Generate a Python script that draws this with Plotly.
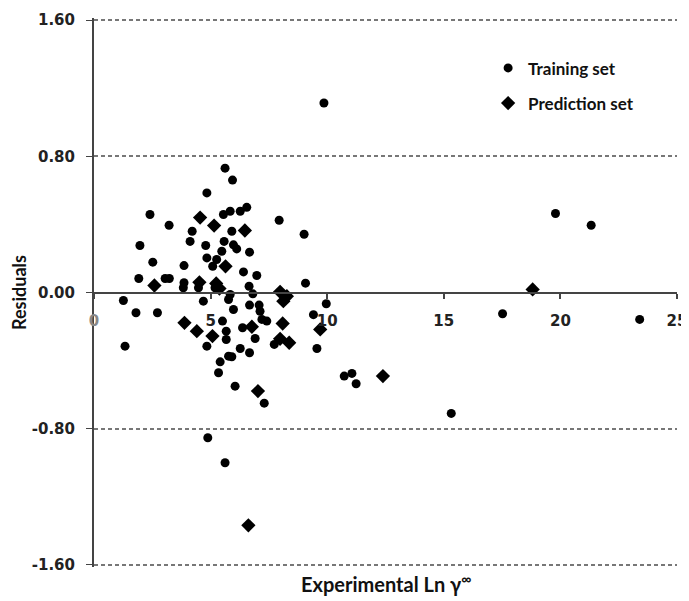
import plotly.graph_objects as go

train_x = [5.62, 5.94, 4.84, 2.40, 3.22, 5.55, 5.84, 6.27, 6.55, 7.94, 9.01, 4.21, 5.91, 4.12,
           1.97, 4.79, 5.58, 5.98, 6.12, 6.67, 5.48, 4.84, 5.26, 2.52, 3.86, 5.09, 1.92, 3.05,
           3.23, 6.41, 6.98, 9.07, 3.86, 3.83, 4.48, 5.19, 6.65, 1.26, 1.80, 2.72, 4.69, 5.84,
           5.77, 5.98, 6.81, 6.67, 7.08, 7.12, 7.20, 7.41, 8.23, 9.96, 9.41, 5.51, 6.37, 1.33,
           5.67, 5.67, 6.91, 4.84, 5.41, 5.34, 5.77, 5.91, 6.27, 6.67, 7.73, 9.56, 6.05, 7.30,
           4.88, 5.62, 10.73, 11.06, 11.24, 15.32, 17.52, 23.40, 9.86, 19.79, 21.32]
train_y = [0.73, 0.66, 0.585, 0.458, 0.395, 0.458, 0.477, 0.477, 0.50, 0.424, 0.342, 0.36, 0.36, 0.30,
           0.276, 0.276, 0.30, 0.28, 0.256, 0.237, 0.242, 0.203, 0.194, 0.178, 0.158, 0.154, 0.082, 0.082,
           0.082, 0.121, 0.10, 0.055, 0.057, 0.028, 0.028, 0.028, 0.037, -0.047, -0.119, -0.119, -0.051, -0.012,
           -0.041, -0.10, -0.008, -0.074, -0.074, -0.11, -0.158, -0.168, -0.02, -0.066, -0.13, -0.168, -0.207, -0.315,
           -0.227, -0.276, -0.27, -0.315, -0.407, -0.471, -0.374, -0.377, -0.329, -0.354, -0.305, -0.329, -0.55, -0.65,
           -0.853, -1.0, -0.491, -0.475, -0.536, -0.71, -0.125, -0.158, 1.113, 0.464, 0.395]

pred_x = [4.55, 5.15, 6.47, 2.59, 4.52, 5.24, 5.38, 5.64, 7.98, 8.12, 8.27, 3.88, 4.41, 5.08,
          6.77, 8.09, 9.70, 7.98, 8.37, 7.03, 6.62, 12.39, 18.81]
pred_y = [0.44, 0.393, 0.364, 0.041, 0.06, 0.053, 0.023, 0.154, 0.004, -0.051, -0.022, -0.178, -0.227, -0.256,
          -0.201, -0.182, -0.217, -0.272, -0.295, -0.579, -1.367, -0.491, 0.018]

x_ticks = [0, 5, 10, 15, 20, 25]
x_ticktext = ["<span style='color:#888'>0</span>", "5", "10", "15", "20", "25"]
y_ticks = [-1.6, -0.8, 0.0, 0.8, 1.6]
y_ticktext = ["-1.60", "-0.80", "0.00", "0.80", "1.60"]

tick_font = dict(family="DejaVu Sans", size=15, color="#222", weight="bold")
title_font = dict(family="Lato", size=18, color="#111", weight="bold")

fig = go.Figure()
fig.add_trace(go.Scatter(x=train_x, y=train_y, mode="markers", name="Training set",
                         legendgroup="a",
                         marker=dict(symbol="circle", size=9, color="black")))
fig.add_trace(go.Scatter(x=pred_x, y=pred_y, mode="markers", name="Prediction set",
                         legendgroup="b",
                         marker=dict(symbol="diamond", size=11, color="black")))

fig.update_layout(
    width=681, height=593,
    margin=dict(l=86, r=12, t=10, b=34, autoexpand=False),
    plot_bgcolor="white", paper_bgcolor="white",
    showlegend=True,
    legend=dict(x=0.676, y=0.941, xanchor="left", yanchor="top",
                font=dict(family="Lato", size=17, color="#111", weight="bold"),
                tracegroupgap=10, bgcolor="rgba(0,0,0,0)", itemwidth=30),
    xaxis=dict(range=[0, 25], tickvals=x_ticks, ticktext=x_ticktext,
               anchor="free", position=0.5, automargin=False,
               showline=True, linecolor="#444", linewidth=2,
               ticks="outside", ticklen=5, tickcolor="#444", tickwidth=2,
               ticklabelstandoff=9,
               showgrid=False, zeroline=False, tickfont=tick_font),
    yaxis=dict(range=[-1.612, 1.612], tickvals=y_ticks, ticktext=y_ticktext,
               automargin=False,
               showline=True, linecolor="#444", linewidth=2,
               ticks="outside", ticklen=6, tickcolor="#444", tickwidth=1,
               ticklabelstandoff=8,
               showgrid=True, gridcolor="#777", griddash="4px,3px", gridwidth=1.5,
               zeroline=False, tickfont=tick_font,
               title=dict(text="Residuals", font=title_font, standoff=6)),
    annotations=[dict(text="Experimental Ln γ<sup>∞</sup>", xref="paper", yref="paper",
                      x=0.5, y=0, yshift=-16, xanchor="center", yanchor="middle",
                      showarrow=False, font=dict(family="Lato", size=20, color="#111", weight="bold"))],
)

fig.write_html("out.html")
